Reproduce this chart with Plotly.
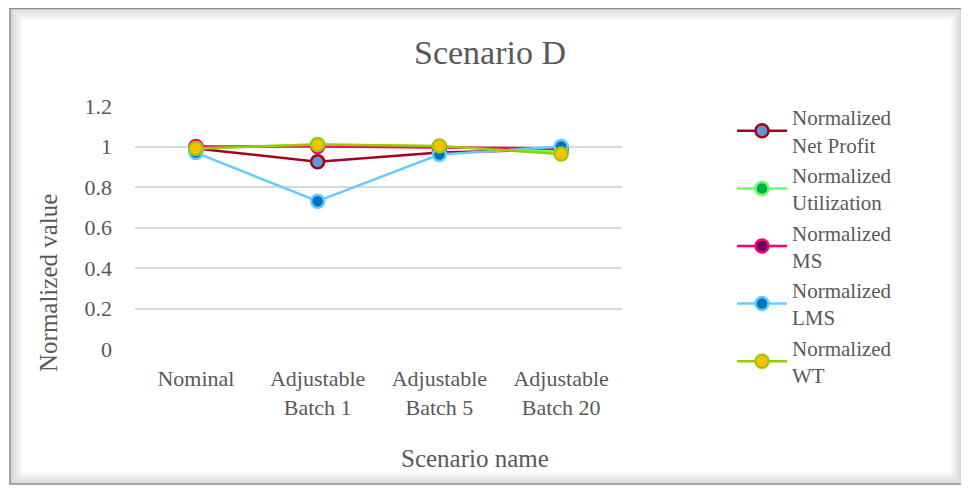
import plotly.graph_objects as go

categories = ["Nominal", "Adjustable<br>Batch 1", "Adjustable<br>Batch 5", "Adjustable<br>Batch 20"]
series_names = ["Normalized<br>Net Profit", "Normalized<br>Utilization", "Normalized<br>MS",
                "Normalized<br>LMS", "Normalized<br>WT"]
net_profit = [0.99, 0.925, 0.97, 0.985]
utilization = [0.99, 1.01, 1.0, 0.975]
ms = [1.0, 1.0, 0.995, 0.99]
lms = [0.97, 0.73, 0.96, 1.0]
wt = [0.99, 1.01, 1.003, 0.963]
y_ticks = [0, 0.2, 0.4, 0.6, 0.8, 1, 1.2]
y_tick_text = ["0", "0.2", "0.4", "0.6", "0.8", "1", "1.2"]

line_colors = ["#A50021", "#66FF66", "#FF0066", "#66CCFF", "#99CC00"]
fill_colors = ["#5B9BD5", "#00B050", "#660066", "#0070C0", "#FFC000"]
values = [net_profit, utilization, ms, lms, wt]

# page body has an 8px margin: figure coords = screen coords - 8
OFF = 8
W, H = 969 - OFF, 488 - OFF
L, R, T, B = 135 - OFF, 622 - OFF, 106 - OFF, 349 - OFF
FONT = "Liberation Serif"
TXT = "#595959"

fig = go.Figure()
for name, vals, lc, fc in zip(series_names, values, line_colors, fill_colors):
    fig.add_trace(go.Scatter(
        x=categories, y=vals, name=name, mode="lines+markers",
        line=dict(color=lc, width=2.5),
        marker=dict(size=13, color=fc, line=dict(color=lc, width=2.5)),
    ))

def px(x):
    return (x - OFF - L) / (R - L)

def py(y):
    return (B - (y - OFF)) / (B - T)

shapes = []
for i in range(12):
    a = 0.28 * (1 - i / 12)
    shapes.append(dict(type="rect", xref="paper", yref="paper",
                       x0=px(11 + i), x1=px(962 - i), y0=py(483 - i), y1=py(9 + i),
                       line=dict(color=f"rgba(120,120,120,{a:.3f})", width=1.2),
                       fillcolor="rgba(0,0,0,0)", layer="below"))
shapes.append(dict(type="rect", xref="paper", yref="paper",
                   x0=px(10), x1=px(963), y0=py(484), y1=py(8.5),
                   line=dict(color="#8c8c8c", width=1.5), fillcolor="rgba(0,0,0,0)", layer="below"))

annotations = [
    dict(text="Scenario name", xref="paper", yref="paper", x=px(475), y=py(458),
         xanchor="center", yanchor="middle", showarrow=False,
         font=dict(size=25, color=TXT, family=FONT)),
    dict(text="Normalized value", xref="paper", yref="paper", x=px(48), y=py(283),
         xanchor="center", yanchor="middle", showarrow=False, textangle=-90,
         font=dict(size=25, color=TXT, family=FONT)),
]

fig.update_layout(
    width=W, height=H,
    margin=dict(l=L, r=W - R, t=T, b=H - B, pad=0),
    paper_bgcolor="white", plot_bgcolor="white",
    font=dict(family=FONT, color=TXT, size=22),
    title=dict(text="Scenario D", x=(490 - OFF) / W, xanchor="center", y=1 - (52 - OFF) / H, yanchor="middle",
               font=dict(size=34, color=TXT, family=FONT)),
    xaxis=dict(showgrid=False, zeroline=False, showline=False, ticks="", range=[-0.5, 3.5],
               tickfont=dict(size=22, color=TXT, family=FONT),
               ticklabelstandoff=14),
    yaxis=dict(range=[0, 1.2], tickvals=y_ticks, ticktext=y_tick_text,
               showgrid=True, gridcolor="#D9D9D9", gridwidth=1.5, zeroline=False, showline=False,
               tickfont=dict(size=22, color=TXT, family=FONT), ticklabelstandoff=22),
    legend=dict(x=px(732), xanchor="left", y=py(97), yanchor="top",
                font=dict(size=21, color=TXT, family=FONT), bgcolor="rgba(0,0,0,0)",
                itemwidth=50, tracegroupgap=0, maxheight=400),
    shapes=shapes,
    annotations=annotations,
    showlegend=True,
)

fig.write_html("out.html")
